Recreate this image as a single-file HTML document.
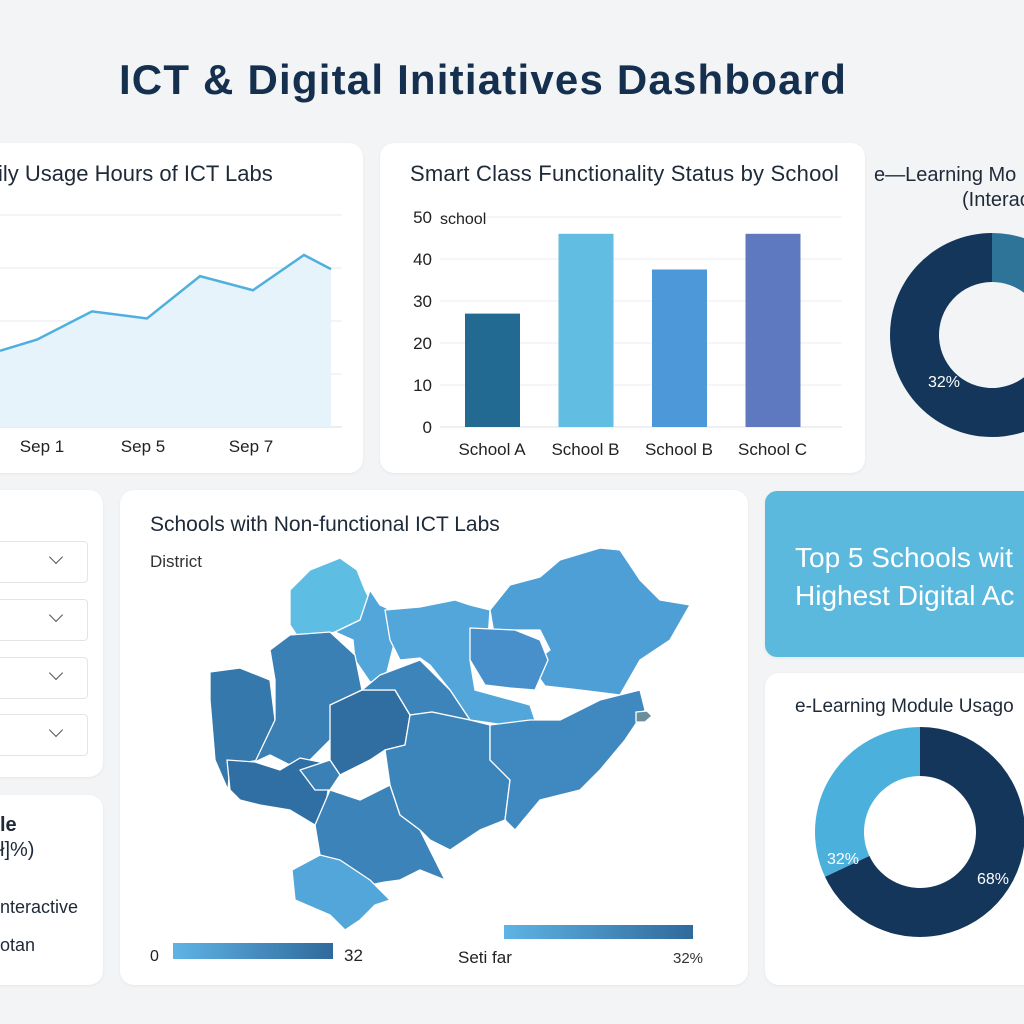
<!DOCTYPE html>
<html><head><meta charset="utf-8">
<style>
body{margin:0;width:1024px;height:1024px;overflow:hidden;background:#f3f4f6;font-family:"Liberation Sans",sans-serif;position:relative;color:#1e2a38}
.card{position:absolute;background:#fff;border-radius:14px;box-shadow:0 1px 3px rgba(0,0,0,.06)}
.t{position:absolute;white-space:nowrap}
.dd{position:absolute;left:-20px;width:106px;height:40px;border:1px solid #e2e4e8;border-radius:4px;background:#fff}
.dd span{position:absolute;left:70px;top:10px;width:9px;height:9px;border-right:1.5px solid #555;border-bottom:1.5px solid #555;transform:rotate(45deg)}
</style></head><body>
<div class="t" style="left:0;width:966px;text-align:center;top:56px;font-size:42px;letter-spacing:1.2px;font-weight:bold;color:#15304f">ICT &amp; Digital Initiatives Dashboard</div>

<div class="card" style="left:-20px;top:143px;width:383px;height:330px"></div>
<div class="t" style="left:-2px;top:161px;font-size:22px">ily Usage Hours of ICT Labs</div>
<svg style="position:absolute;left:0;top:0" width="380" height="480" id="lineSvg"></svg>

<div class="card" style="left:380px;top:143px;width:485px;height:330px"></div>
<div class="t" style="left:410px;top:161px;font-size:22px;letter-spacing:0.2px">Smart Class Functionality Status by School</div>
<svg style="position:absolute;left:380px;top:143px" width="480" height="330" id="barSvg"></svg>

<div class="t" style="left:874px;top:164px;font-size:20px">e—Learning Mo</div>
<div class="t" style="left:962px;top:189px;font-size:20px">(Interac</div>
<svg style="position:absolute;left:860px;top:220px" width="164" height="230" id="d1"></svg>

<div class="card" style="left:-20px;top:490px;width:123px;height:287px"></div>
<div class="dd" style="top:541px"><span></span></div>
<div class="dd" style="top:599px"><span></span></div>
<div class="dd" style="top:657px"><span></span></div>
<div class="dd" style="top:714px"><span></span></div>

<div class="card" style="left:-20px;top:795px;width:123px;height:190px"></div>
<div class="t" style="left:0;top:814px;font-size:20px;font-weight:bold">le</div>
<div class="t" style="left:0;top:839px;font-size:20px">ł]%)</div>
<div class="t" style="left:0;top:897px;font-size:18px">nteractive</div>
<div class="t" style="left:0;top:935px;font-size:18px">otan</div>

<div class="card" style="left:120px;top:490px;width:628px;height:495px"></div>
<div class="t" style="left:150px;top:513px;font-size:21px">Schools with Non-functional ICT Labs</div>
<div class="t" style="left:150px;top:552px;font-size:17px;color:#333">District</div>
<svg style="position:absolute;left:0;top:0" width="760" height="1000" id="mapSvg">
<defs><linearGradient id="cb" x1="0" x2="1"><stop offset="0" stop-color="#5fb3e5"/><stop offset="1" stop-color="#2f6a9b"/></linearGradient></defs>
<g stroke="#fff" stroke-width="1.3" stroke-linejoin="round">
<path fill="#5dbde3" d="M290,590 L310,570 L340,558 L357,570 L365,590 L370,600 L360,620 L335,632 L300,640 L290,625Z"/>
<path fill="#52a6da" d="M335,632 L360,620 L370,590 L380,605 L395,612 L400,620 L390,660 L385,680 L370,682 L355,660 L353,640Z"/>
<path fill="#52a6da" d="M385,610 L420,607 L455,600 L470,605 L490,610 L488,640 L470,660 L475,690 L530,705 L535,720 L520,728 L505,725 L470,720 L450,690 L430,665 L420,658 L400,660 L390,640Z"/>
<path fill="#4f9fd7" d="M490,610 L510,585 L540,577 L560,560 L600,548 L620,550 L640,580 L660,600 L690,605 L670,640 L640,660 L620,695 L580,690 L545,686 L530,665 L550,650 L540,630 L515,630 L495,640Z"/>
<path fill="#4790cc" d="M470,628 L515,630 L540,640 L548,660 L535,690 L510,688 L485,685 L470,660Z"/>
<path fill="#3478ac" d="M210,672 L240,668 L270,680 L275,720 L260,760 L230,765 L228,790 L215,760 L210,700Z"/>
<path fill="#3a80b5" d="M270,650 L290,635 L330,632 L355,655 L362,690 L335,703 L330,740 L300,770 L270,755 L255,762 L275,720 L275,680Z"/>
<path fill="#2f6fa3" d="M227,760 L255,762 L280,770 L300,758 L320,762 L330,778 L325,810 L315,825 L290,810 L260,805 L240,800 L230,790Z"/>
<path fill="#306ea1" d="M330,705 L362,690 L395,690 L410,715 L405,745 L385,750 L370,760 L340,775 L330,760 L330,740Z"/>
<path fill="#3d84ba" d="M362,690 L380,675 L420,660 L450,690 L470,720 L432,712 L410,715 L395,690Z"/>
<path fill="#3b83b9" d="M315,825 L330,790 L345,795 L360,800 L390,785 L400,815 L420,830 L440,870 L445,880 L420,870 L400,880 L385,882 L370,885 L355,880 L340,875 L320,855Z"/>
<path fill="#3c85bb" d="M405,745 L410,715 L432,712 L470,720 L490,725 L490,760 L510,780 L505,820 L480,830 L450,850 L430,840 L420,830 L400,815 L390,785 L385,750Z"/>
<path fill="#4089c0" d="M490,725 L530,720 L560,720 L600,700 L640,690 L645,710 L625,740 L600,770 L580,790 L540,800 L515,830 L505,820 L510,780 L490,760Z"/>
<path fill="#52a6da" d="M292,870 L320,855 L340,860 L370,880 L390,900 L375,905 L360,920 L345,930 L330,915 L295,900Z"/>
<path fill="#6a8f9b" d="M636,712 L647,711 L652,716 L645,722 L636,722Z"/>
<path fill="#3a80b5" d="M300,770 L330,760 L340,775 L330,790 L315,790Z"/>
</g>
<rect x="173" y="943" width="160" height="16" fill="url(#cb)"/>
<rect x="504" y="925" width="189" height="14" fill="url(#cb)"/>
<text x="150" y="961" font-size="16" fill="#222">0</text>
<text x="344" y="961" font-size="17" fill="#222">32</text>
<text x="458" y="963" font-size="17" fill="#222">Seti far</text>
<text x="673" y="963" font-size="15" fill="#333">32%</text>
</svg>

<div class="card" style="left:765px;top:491px;width:280px;height:166px;background:#5bb9de;border-radius:12px"></div>
<div class="t" style="left:795px;top:539px;font-size:28px;color:#fff;line-height:38px">Top 5 Schools wit<br>Highest Digital Ac</div>

<div class="card" style="left:765px;top:673px;width:280px;height:312px"></div>
<div class="t" style="left:795px;top:696px;font-size:19px">e-Learning Module Usago</div>
<svg style="position:absolute;left:765px;top:700px" width="259" height="270" id="d2"></svg>

<script>
// Line chart data
const lineDates=[0,1,2,3,4,5,6,7];
const lineValues=[2.7,3.1,4.1,3.85,5.35,4.85,6.1,5.6];
const lineXTicks=["Sep 1","Sep 5","Sep 7"];
// Bar chart data
const barCats=["School A","School B","School B","School C"];
const barVals=[27,46,37.5,46];
const barTicks=[0,10,20,30,40,50];
// Donuts (first value drawn clockwise from 12 o'clock)
const donut1Vals=[22,78];
const donut1Label="32%";
const donut2Vals=[68,32];

const NS="http://www.w3.org/2000/svg";
function mk(p,tag,attrs){const e=document.createElementNS(NS,tag);for(const k in attrs)e.setAttribute(k,attrs[k]);p.appendChild(e);return e;}

// line
(function(){
const s=document.getElementById('lineSvg');
const xs=[0,37,92,147,200,253,304,331];
const lx=i=>xs[i];
const ly=v=>427-v*28.2;
[215,268,321,374].forEach(y=>{const l=mk(s,'line',{x1:-5,x2:342,y1:y,y2:y,stroke:'#e6e8ec'});});
mk(s,'line',{x1:-5,x2:342,y1:427,y2:427,stroke:'#d8dbe0'});
let d=lineValues.map((v,i)=>(i?'L':'M')+lx(lineDates[i])+','+ly(v)).join(' ');
const a=mk(s,'path',{d:d+` L${lx(7)},427 L0,427Z`,fill:'#e6f3fb'});

const l=mk(s,'path',{d:d,fill:'none',stroke:'#4fafdf','stroke-width':2.5});

lineXTicks.forEach((t,i)=>{const tx=mk(s,'text',{x:[42,143,251][i],y:452,'font-size':17,'text-anchor':'middle',fill:'#222'});tx.textContent=t;});
})();

// bars
(function(){
const s=document.getElementById('barSvg');
const y=v=>284-v*4.2;
const bx=i=>85+i*93.5;
barTicks.forEach(t=>{
 const g=mk(s,'line',{x1:60,x2:462,y1:y(t),y2:y(t),stroke:t?'#eceef1':'#dfe2e6'});
 
 const tx=mk(s,'text',{x:52,y:y(t)+6,'font-size':17,'text-anchor':'end',fill:'#222'});tx.textContent=t;
 
});
const st=mk(s,'text',{x:60,y:81,'font-size':16,fill:'#222'});st.textContent='school';
const cols=['#236a93','#62bde2','#4d98d8','#5f79c0'];
barVals.forEach((v,i)=>{
 const r=mk(s,'rect',{x:bx(i),y:y(v),width:55,height:y(0)-y(v),fill:cols[i]});
 
 const tx=mk(s,'text',{x:bx(i)+27,y:312,'font-size':17,'text-anchor':'middle',fill:'#222'});tx.textContent=barCats[i];
 
});
})();

function donut(id,cx,cy,R,r,vals,cols){
 const s=document.getElementById(id);let a0=0;const tot=vals.reduce((a,b)=>a+b,0);
 vals.forEach((v,i)=>{
  const a1=a0+v/tot*2*Math.PI;const big=(a1-a0)>Math.PI?1:0;
  const p=(rad,a)=>[cx+rad*Math.sin(a),cy-rad*Math.cos(a)];
  const [x0,y0]=p(R,a0),[x1,y1]=p(R,a1),[x2,y2]=p(r,a1),[x3,y3]=p(r,a0);
  const e=mk(s,'path',{d:`M${x0},${y0} A${R},${R} 0 ${big} 1 ${x1},${y1} L${x2},${y2} A${r},${r} 0 ${big} 0 ${x3},${y3}Z`,fill:cols[i]});
  
  a0=a1;
 });
 return s;
}
const s1=donut('d1',132,115,102,53,donut1Vals,['#2e7398','#14365a']);
const t1=mk(s1,'text',{x:84,y:167,'font-size':16,fill:'#fff','text-anchor':'middle'});t1.textContent=donut1Label;
const s2=donut('d2',155,132,105,56,donut2Vals,['#14365a','#4cb0dc']);
const t2=mk(s2,'text',{x:78,y:164,'font-size':16,fill:'#fff','text-anchor':'middle'});t2.textContent=donut2Vals[1]+'%';
const t3=mk(s2,'text',{x:228,y:184,'font-size':16,fill:'#fff','text-anchor':'middle'});t3.textContent=donut2Vals[0]+'%';
</script>
</body></html>
